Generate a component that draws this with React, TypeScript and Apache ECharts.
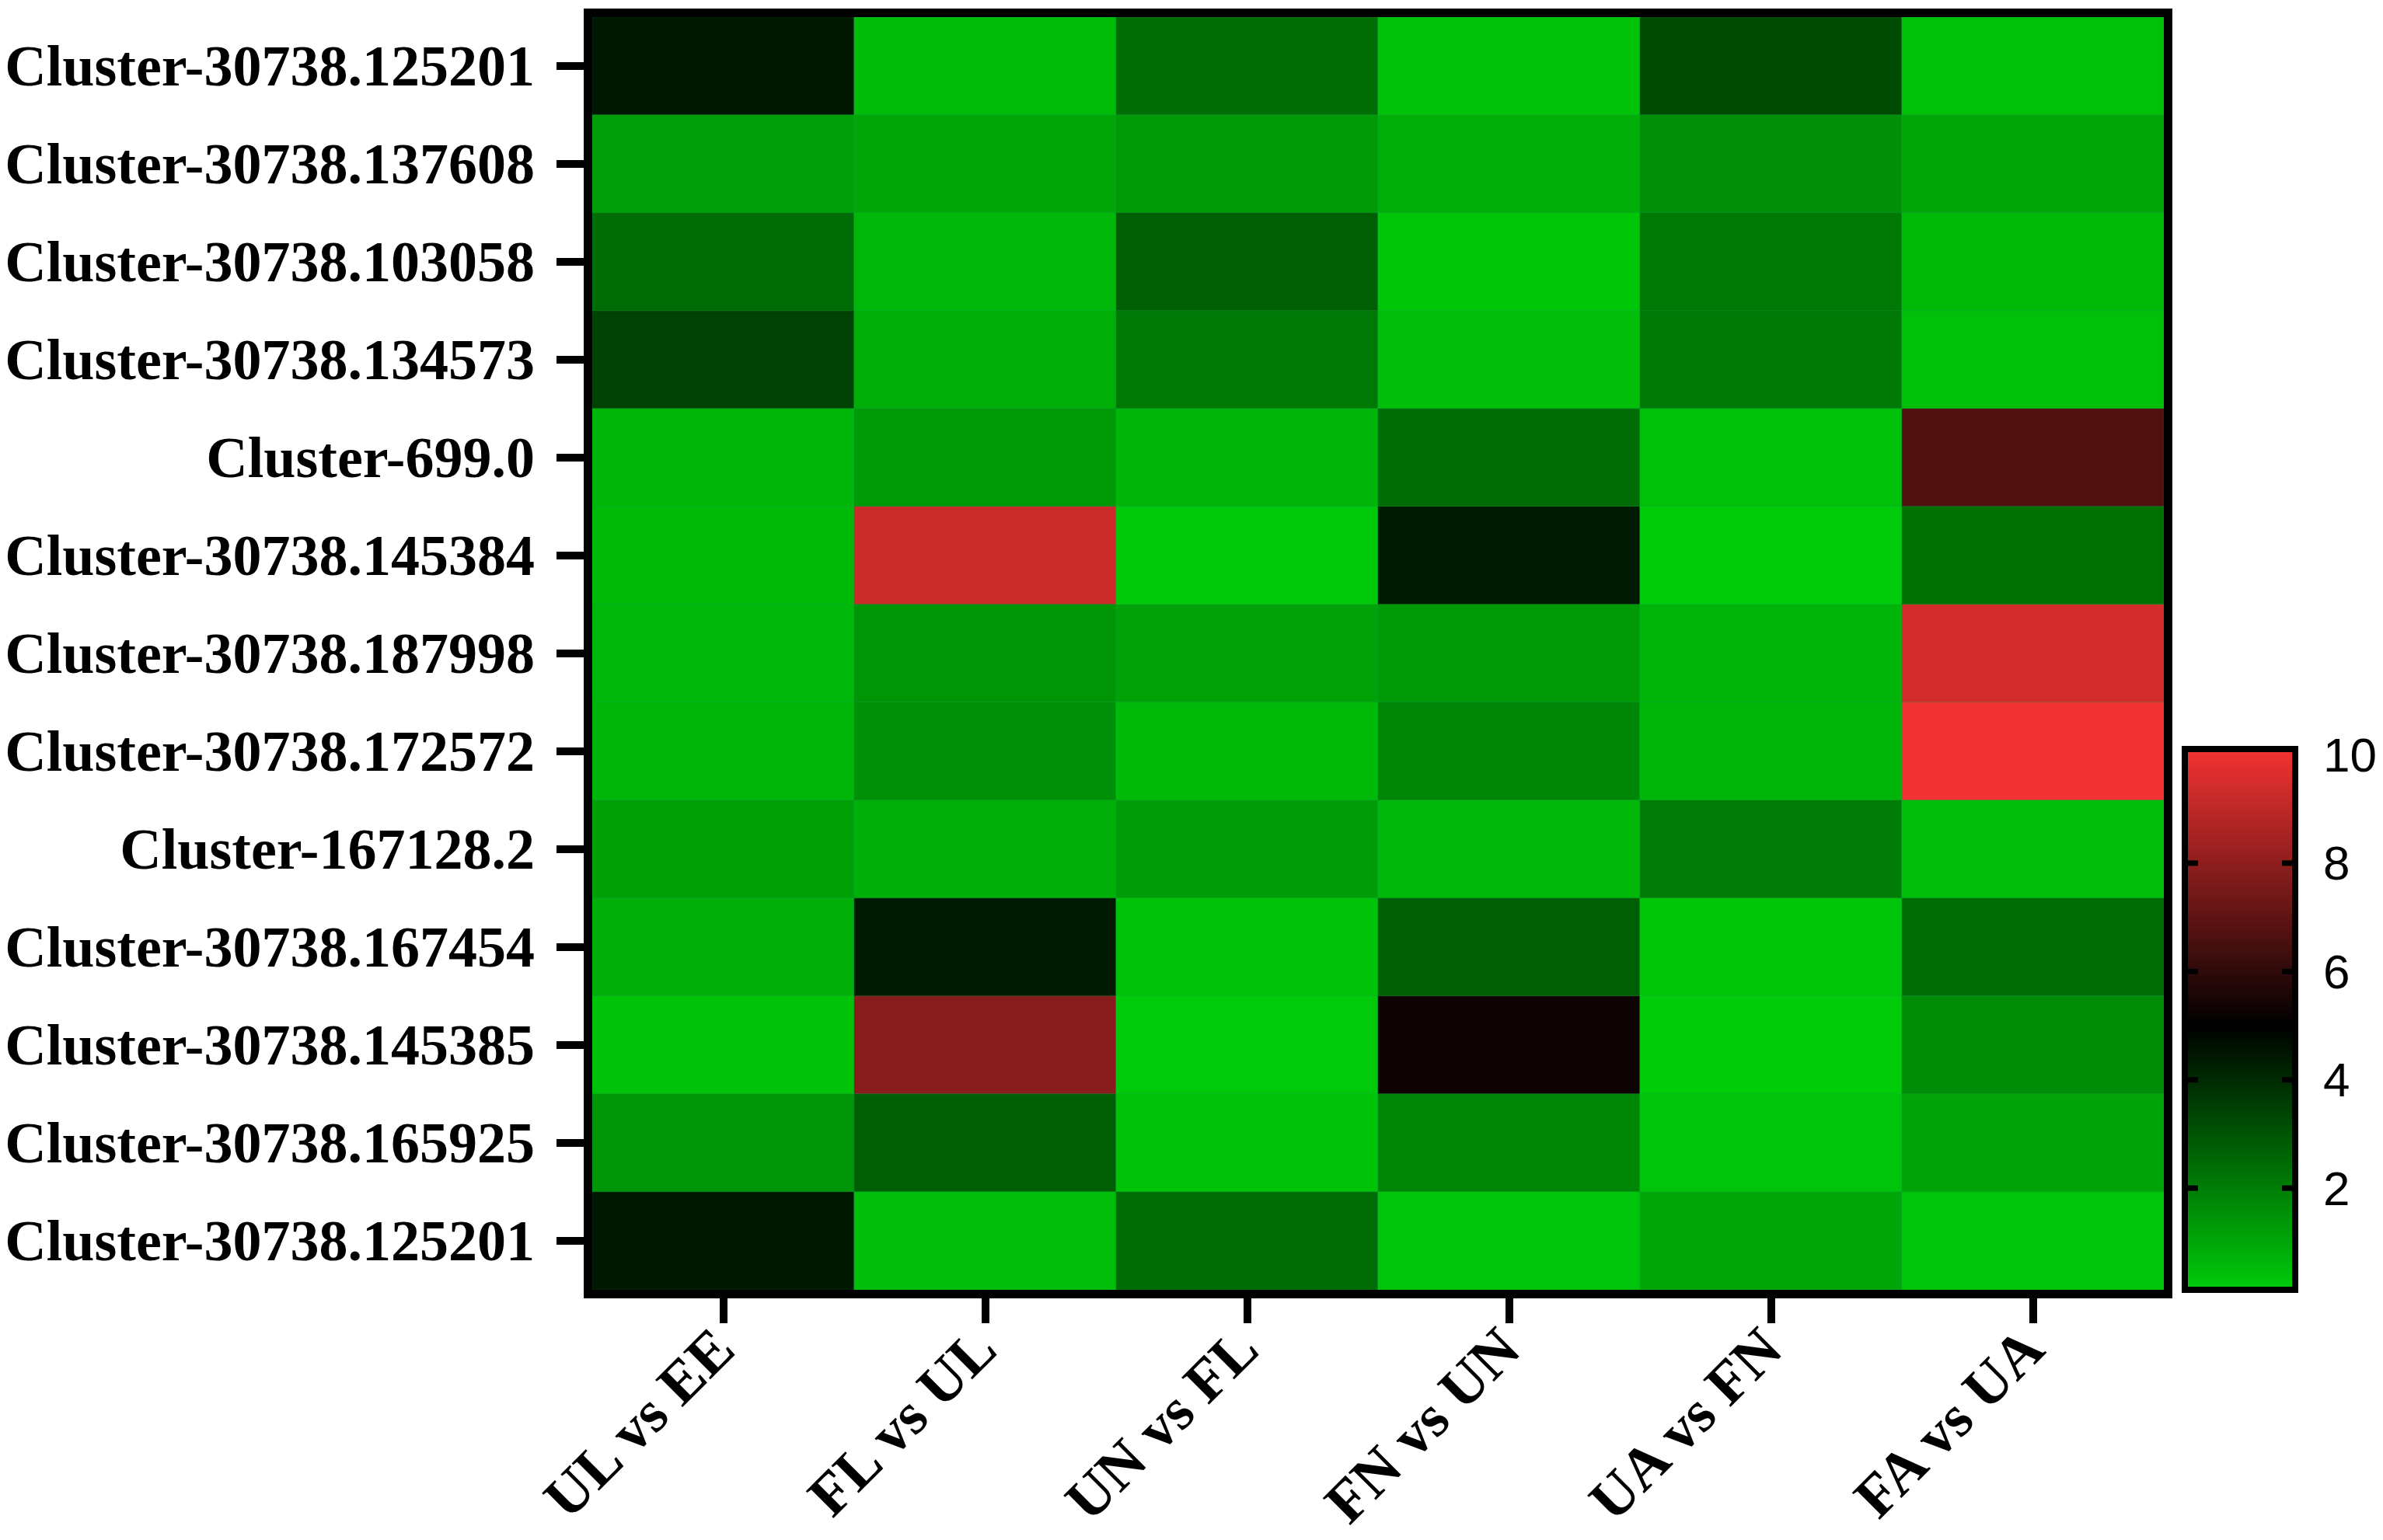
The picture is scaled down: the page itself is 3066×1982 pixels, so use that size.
import React, { useEffect, useRef } from 'react';
import * as echarts from 'echarts';

// Row categories (top to bottom)
const genes = [
  'Cluster-30738.125201',
  'Cluster-30738.137608',
  'Cluster-30738.103058',
  'Cluster-30738.134573',
  'Cluster-699.0',
  'Cluster-30738.145384',
  'Cluster-30738.187998',
  'Cluster-30738.172572',
  'Cluster-167128.2',
  'Cluster-30738.167454',
  'Cluster-30738.145385',
  'Cluster-30738.165925',
  'Cluster-30738.125201',
];

// Column categories (left to right)
const comparisons = ['UL vs EE', 'FL vs UL', 'UN vs FL', 'FN vs UN', 'UA vs FN', 'FA vs UA'];

// Values per column, ordered as genes (top to bottom)
const ulVsEE = [4.42, 1.2, 2.4, 3.41, 0.63, 0.53, 0.58, 0.63, 1.15, 0.77, 0.34, 1.39, 4.42];
const flVsUL = [0.5, 1.01, 0.58, 0.82, 1.3, 9.2, 1.44, 1.54, 0.77, 4.4, 7.84, 2.74, 0.43];
const unVsFL = [2.36, 1.3, 2.74, 2.12, 0.67, 0.19, 1.1, 0.53, 1.25, 0.34, 0.14, 0.34, 2.4];
const fnVsUN = [0.31, 0.82, 0.24, 0.43, 2.4, 4.4, 1.3, 1.78, 0.58, 2.74, 5.3, 1.78, 0.29];
const uaVsFN = [3.22, 1.56, 2.12, 2.12, 0.38, 0.1, 0.67, 0.63, 2.02, 0.24, 0.1, 0.29, 1.01];
const faVsUA = [0.38, 1.01, 0.53, 0.38, 6.68, 2.31, 9.41, 10, 0.43, 2.4, 1.63, 1.06, 0.29];

// Colour scale
const valueMin = 0;
const valueMax = 10;
const colorStops = ['#00D00A', '#000000', '#F03232'];
const colorbarMin = 0.18;
const colorbarMax = 10.05;
const colorbarTicks = [2, 4, 6, 8];
const colorbarLabels = [2, 4, 6, 8, 10];

export default function App() {
  const ref = useRef<HTMLDivElement>(null);

  useEffect(() => {
    if (!ref.current) return;
    const chart = echarts.init(ref.current, null, { renderer: 'svg' });

    const columns = [ulVsEE, flVsUL, unVsFL, fnVsUN, uaVsFN, faVsUA];
    const data: number[][] = [];
    columns.forEach((col, x) => col.forEach((v, y) => data.push([x, y, v])));

    const G = { left: 762, top: 22, width: 2022, height: 1638 };
    const CB = { left: 2815, top: 968, width: 134, height: 688 };
    const serif = '"Liberation Serif", "Times New Roman", serif';
    const sans = '"Liberation Sans", Arial, sans-serif';

    const clamp = (t: number) => Math.max(0, Math.min(1, t));
    const colorAt = (v: number) =>
      echarts.color.lerp(clamp((v - valueMin) / (valueMax - valueMin)), colorStops) as string;
    const midValue = (valueMin + valueMax) / 2;
    const gradStops = [
      { offset: 0, color: colorAt(colorbarMin) },
      { offset: clamp((midValue - colorbarMin) / (colorbarMax - colorbarMin)), color: colorStops[1] },
      { offset: 1, color: colorAt(colorbarMax) },
    ];
    const cbTickLen = 13;
    const cbTickWidth = 7;

    const option: any = {
      animation: false,
      backgroundColor: '#ffffff',
      grid: [
        { left: G.left, top: G.top, width: G.width, height: G.height, containLabel: false },
        { left: CB.left, top: CB.top, width: CB.width, height: CB.height, containLabel: false },
      ],
      xAxis: [
        {
          type: 'category',
          gridIndex: 0,
          data: comparisons,
          position: 'bottom',
          axisLine: { show: false },
          axisTick: { show: true, alignWithLabel: true, interval: 0, length: 43, lineStyle: { color: '#000', width: 10 } },
          axisLabel: {
            interval: 0,
            rotate: 45,
            margin: 62,
            color: '#000',
            fontFamily: serif,
            fontWeight: 'bold',
            fontSize: 76,
          },
          splitLine: { show: false },
        },
        { type: 'value', gridIndex: 1, min: 0, max: 1, show: false },
      ],
      yAxis: [
        {
          type: 'category',
          gridIndex: 0,
          data: genes,
          inverse: true,
          axisLine: { show: false },
          axisTick: { show: true, alignWithLabel: true, interval: 0, length: 46, lineStyle: { color: '#000', width: 10 } },
          axisLabel: {
            interval: 0,
            margin: 74,
            color: '#000',
            fontFamily: serif,
            fontWeight: 'bold',
            fontSize: 74,
          },
          splitLine: { show: false },
        },
        {
          type: 'value',
          gridIndex: 1,
          min: colorbarMin,
          max: colorbarMax,
          position: 'right',
          axisLine: { show: false },
          axisTick: { show: false },
          axisLabel: {
            show: true,
            customValues: colorbarLabels,
            margin: 40,
            color: '#000',
            fontFamily: sans,
            fontSize: 62,
          },
          splitLine: { show: false },
        },
      ],
      visualMap: {
        type: 'continuous',
        show: false,
        min: valueMin,
        max: valueMax,
        dimension: 2,
        seriesIndex: 0,
        inRange: { color: colorStops },
      },
      series: [
        {
          type: 'heatmap',
          xAxisIndex: 0,
          yAxisIndex: 0,
          data,
          label: { show: false },
          itemStyle: { borderWidth: 1, borderColor: 'rgba(30,160,70,0.35)' },
          emphasis: { disabled: true },
        },
        {
          type: 'custom',
          xAxisIndex: 1,
          yAxisIndex: 1,
          data: [[0, colorbarMin, colorbarMax]],
          silent: true,
          renderItem: (_params: any, api: any) => {
            const p0 = api.coord([0, colorbarMax]);
            const p1 = api.coord([1, colorbarMin]);
            const children: any[] = [
              {
                type: 'rect',
                shape: { x: p0[0], y: p0[1], width: p1[0] - p0[0], height: p1[1] - p0[1] },
                style: { fill: new echarts.graphic.LinearGradient(0, 1, 0, 0, gradStops) },
              },
            ];
            colorbarTicks.forEach((t) => {
              const y = api.coord([0, t])[1];
              children.push({
                type: 'line',
                shape: { x1: p0[0], y1: y, x2: p0[0] + cbTickLen, y2: y },
                style: { stroke: '#000', lineWidth: cbTickWidth },
              });
              children.push({
                type: 'line',
                shape: { x1: p1[0] - cbTickLen, y1: y, x2: p1[0], y2: y },
                style: { stroke: '#000', lineWidth: cbTickWidth },
              });
            });
            return { type: 'group', children };
          },
        },
      ],
      graphic: [
        {
          type: 'rect',
          z: 100,
          silent: true,
          shape: { x: G.left - 5.5, y: G.top - 5.5, width: G.width + 11, height: G.height + 11 },
          style: { fill: 'none', stroke: '#000', lineWidth: 11 },
        },
        {
          type: 'rect',
          z: 100,
          silent: true,
          shape: { x: CB.left - 4, y: CB.top - 4, width: CB.width + 8, height: CB.height + 8 },
          style: { fill: 'none', stroke: '#000', lineWidth: 8 },
        },
      ],
    };

    chart.setOption(option);
    return () => chart.dispose();
  }, []);

  return (
    <div
      ref={ref}
      style={{ position: 'fixed', left: 0, top: 0, width: 3066, height: 1982, background: '#fff' }}
    />
  );
}
